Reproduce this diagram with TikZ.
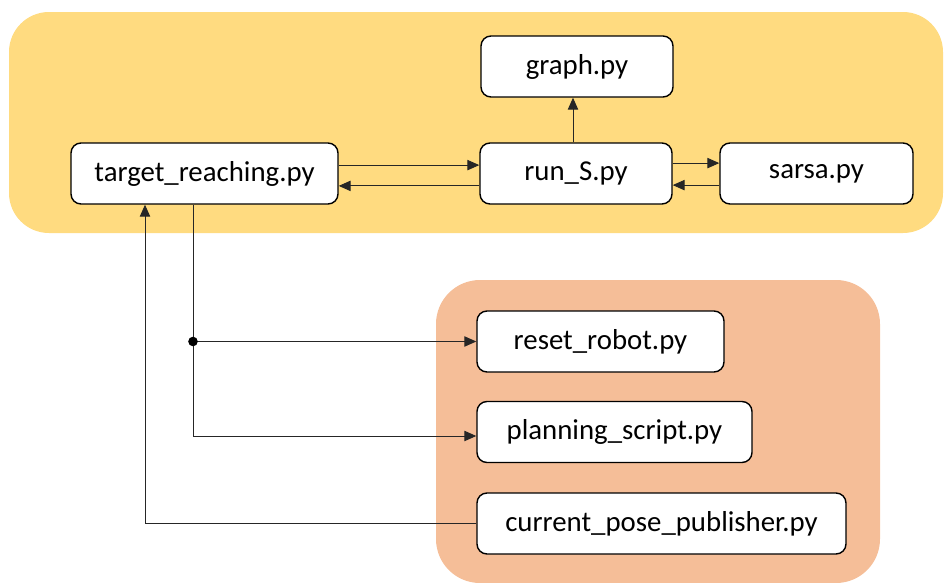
\documentclass[tikz,border=0pt]{standalone}
\usepackage{fontspec}
\setmainfont{Carlito}
\usepackage{tikz}
\usetikzlibrary{arrows.meta}

\definecolor{panelyellow}{RGB}{255,219,128}
\definecolor{panelorange}{RGB}{245,190,152}

\tikzset{
  pyfile/.style={draw, line width=1pt, rounded corners=2.5mm, fill=white,
    minimum height=1.525cm, inner sep=0pt,
    font=\fontsize{20.5}{24}\selectfont},
  link/.style={line width=0.7pt, black!85, -{Triangle[length=3mm,width=2.6mm]}}
}

\begin{document}
\begin{tikzpicture}
          \useasboundingbox (0,0) rectangle (23.6,-14.575);
          % panels
          \fill[panelyellow, rounded corners=1cm] (0.225,-0.3) rectangle (23.575,-5.825);
          \fill[panelorange, rounded corners=1.1cm] (10.9,-7.0) rectangle (22.0,-14.575);
          % learning side
          \node[pyfile, minimum width=4.8cm] (graph) at (14.425,-1.6625) {graph.py};
          \node[pyfile, minimum width=6.675cm] (target) at (5.1125,-4.3375) {target\_reaching.py};
          \node[pyfile, minimum width=4.8cm] (runS) at (14.4,-4.3375) {run\_S.py};
          \node[pyfile, minimum width=4.825cm] (sarsa) at (20.4125,-4.3375) {sarsa.py};
          % robot side
          \node[pyfile, minimum width=6.175cm] (reset) at (15.0125,-8.5375) {reset\_robot.py};
          \node[pyfile, minimum width=6.875cm] (planning) at (15.3625,-10.8) {planning\_script.py};
          \node[pyfile, minimum width=9.225cm] (current) at (16.5375,-13.0875) {current\_pose\_publisher.py};
          % target_reaching <-> run_S
          \draw[link] ([yshift=2.1mm]target.east) -- ([yshift=2.1mm]target.east -| runS.west);
          \draw[link] ([yshift=-3.1mm]runS.west) -- ([yshift=-3.1mm]runS.west -| target.east);
          % run_S <-> sarsa
          \draw[link] ([yshift=2.6mm]runS.east) -- ([yshift=2.6mm]runS.east -| sarsa.west);
          \draw[link] ([yshift=-2.9mm]sarsa.west) -- ([yshift=-2.9mm]sarsa.west -| runS.east);
          % run_S to graph
          \draw[link] ([xshift=-0.75mm]runS.north) -- ([xshift=-0.75mm]runS.north |- graph.south);
          % target_reaching to reset_robot and planning_script
          \coordinate (split) at ([xshift=-2.875mm]target.south |- reset.west);
          \draw[link] ([xshift=-2.875mm]target.south) |- ([yshift=-1mm]planning.west);
          \draw[link] (split) -- (split -| reset.west);
          \fill (split) circle [radius=0.12];
          % current_pose_publisher back to target_reaching
          \draw[link] (current.west) -| ([xshift=-14.875mm]target.south);
        \end{tikzpicture}
\end{document}
